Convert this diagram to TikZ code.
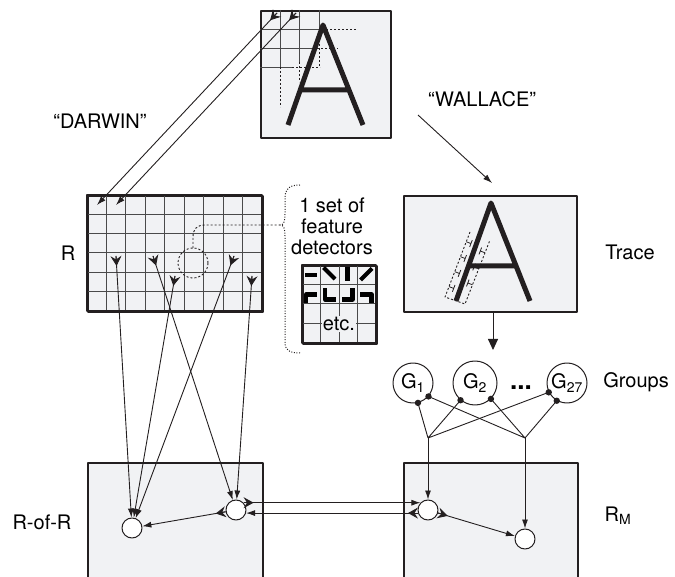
\documentclass[tikz,border=0pt]{standalone}
\usepackage{fontspec}
\setmainfont{TeX Gyre Heros}
\usetikzlibrary{arrows.meta,calc}
\definecolor{boxfill}{HTML}{F1F2F4}
\definecolor{ink}{HTML}{231F20}
\definecolor{gridc}{HTML}{4A4A4A}
\newcommand\fletchmark[3]{\draw[conn, arrows={-Stealth[length=10pt,width=11pt,inset=3.5pt]}] ($(#1)!#3!(#2)$) -- ($(#1)!#3+10pt!(#2)$);}
\begin{document}
\begin{tikzpicture}[x=1pt,y=-1pt, font=\fontsize{20}{21}\selectfont, line join=round,
  box/.style={draw=ink, line width=2pt, fill=boxfill, inner sep=0pt, anchor=north west},
  gridline/.style={draw=gridc, line width=1pt},
  dsh/.style={draw=ink, line width=0.9pt, dash pattern=on 2pt off 2pt},
  dot/.style={draw=ink, line width=1pt, dash pattern=on 1pt off 1.6pt},
  stroke/.style={draw=ink, line width=5pt},
  icon/.style={draw=black, line width=4.2pt},
  conn/.style={draw=ink, line width=0.9pt},
  head/.style={conn, arrows={-Latex[length=9pt,width=6pt]}},
  unit/.style={draw=ink, line width=1pt, fill=white, circle, inner sep=0pt, minimum size=20pt},
  group/.style={draw=ink, line width=1pt, circle, inner sep=0pt, minimum size=40pt},
  lab/.style={inner sep=0pt}]
\useasboundingbox (0,0) rectangle (675,577);

% ---------- top box ----------
\node[box, minimum width=130pt, minimum height=127pt] (top) at (260,10) {};
\draw[gridline] (260,29.5) -- (322,29.5) (260,48.5) -- (313,48.5) (260,67.5) -- (292,67.5)
  (280,10) -- (280,67) (299.5,10) -- (299.5,62) (319,10) -- (319,29.5);
\draw[dsh] (322,29.5) -- (357,29.5) (313,48.5) -- (338,48.5) (292,67.5) -- (320,67.5)
  (280,67) -- (280,107) (299.5,62) -- (299.5,82) (319,40) -- (319,67);
\draw[stroke] (288,125) -- (323,25) -- (363,125) (300,90) -- (349,90);

% ---------- R box ----------
\node[box, minimum width=175pt, minimum height=116pt] (R) at (87,195) {};
\foreach \i in {1,...,8} \draw[gridline] ({87+\i*175/9},195) -- ({87+\i*175/9},311);
\foreach \j in {1,...,5} \draw[gridline] (87,{195+\j*116/6}) -- (262,{195+\j*116/6});
\draw[box, fill=none] (87,195) rectangle (262,311);
\node[lab] (Rlab) at (68,253) {R};

% dashed circle and link to detectors
\draw[dsh] (193,263) circle[radius=15pt];
\draw[dsh] (193,248) -- (193,237) .. controls (193,229) and (197,225) .. (205,225) -- (280,225);
\draw[dot] (300,185) .. controls (289,185) and (285,189) .. (285,198) -- (285,214)
  .. controls (285,221) and (284,225) .. (280,225)
  .. controls (284,225) and (285,229) .. (285,236) -- (285,342)
  .. controls (285,350) and (289,353) .. (300,353);

% ---------- detectors ----------
\node[lab, align=center] (fd) at (332,226) {1 set of\\feature\\detectors};
\node[box, minimum width=74pt, minimum height=78pt] (det) at (302,265) {};
\draw[gridline] (320.5,265) -- (320.5,343) (339,265) -- (339,343) (357.5,265) -- (357.5,343)
  (302,284.5) -- (376,284.5) (302,304) -- (376,304) (302,323.5) -- (376,323.5);
\draw[box, fill=none] (302,265) rectangle (376,343);
\node[fill=boxfill, inner sep=1pt] (etc) at (339,324) {etc.};
\draw[icon] (305,275) -- (316.5,275);
\draw[icon] (323.5,267.5) -- (335,279);
\draw[icon] (347.5,267) -- (347.5,281);
\draw[icon] (360.5,280) -- (372,268.5);
\draw[icon] (306,303) -- (306,294.5) -- (317,294.5);
\draw[icon] (325,288.5) -- (325,299.5) -- (336,299.5);
\draw[icon] (352.5,288.5) -- (352.5,299.5) -- (341.5,299.5);
\draw[icon] (360,294.5) -- (371.5,294.5) -- (371.5,303);

% ---------- Trace box ----------
\node[box, minimum width=173pt, minimum height=116pt] (trace) at (403,195) {};
\draw[stroke] (456,301) -- (491,203) -- (530,301) (468,266) -- (516,266);
\draw[dsh] (470,232) -- (445,297) -- (465,304) -- (490,240);
\foreach \f in {0.15,0.38,0.61,0.84}
  \draw[ink, line width=0.8pt] ($(470,232)!\f!(445,297)$) -- ++(4.7,1.8) ++(-1.3,3.4) -- ++(2.6,-6.8);
\foreach \f in {0.2,0.45,0.7}
  \draw[ink, line width=0.8pt] ($(490,240)!\f!(465,304)$) -- ++(-4.7,-1.8) ++(-1.3,3.4) -- ++(2.6,-6.8);
\node[lab] (tracelab) at (630,252) {Trace};

% ---------- labels and top arrows ----------
\node[lab] (darwin) at (100,121) {“DARWIN”};
\node[lab] (wallace) at (482,99) {“WALLACE”};
\coordinate (wA) at (418,115);
\coordinate (wB) at (492,183);
\draw[head] (wA) -- (wB);
\coordinate (t1) at (277,13);
\coordinate (t2) at (296,13);
\coordinate (c1) at (97,205);
\coordinate (c2) at (116,205);
\draw[head] (t1) -- (c1);
\draw[head] (t2) -- (c2);
\fletchmark{t1}{c1}{0pt}
\fletchmark{t2}{c2}{0pt}

% ---------- Trace -> groups ----------
\coordinate (tr1) at (493,312);
\coordinate (tr2) at (493,350);
\draw[conn, arrows={-Triangle[length=11pt,width=10pt]}] (tr1) -- (tr2);

% ---------- groups ----------
\node[group] (G1) at (413,383) {G\textsubscript{1}};
\node[group, minimum size=44pt] (G2) at (475,383) {G\textsubscript{2}};
\node[group] (G27) at (567,383) {G\textsubscript{27}};
\node[lab, font=\fontsize{26}{26}\selectfont\bfseries] (dots) at (521,388) {...};
\node[lab] (groupslab) at (636,382) {Groups};
\coordinate (J1) at (428,438);
\coordinate (J2) at (525,438);
\draw[conn] (J1) -- (G1.-76) (J1) -- (G2.-130) (J1) -- (G27.-153);
\draw[conn] (J2) -- (G1.-41) (J2) -- (G2.-45) (J2) -- (G27.-120);
\foreach \p in {G1.-76,G1.-41,G2.-130,G2.-45,G27.-153,G27.-120}
  \fill[ink] (\p) circle[radius=3.2pt];

% ---------- bottom boxes ----------
\node[box, minimum width=175pt, minimum height=116pt] (ror) at (87,462) {};
\node[box, minimum width=174pt, minimum height=116pt] (rm) at (403,462) {};
\node[lab] (rorlab) at (42,522) {R-of-R};
\node[lab] (rmlab) at (618,516) {R\textsubscript{M}};

\node[unit] (A) at (132,528) {};
\node[unit] (B) at (236,510) {};
\node[unit] (M1) at (428,510) {};
\node[unit] (M2) at (525,539) {};

% R cell markers
\coordinate (m1) at (116,256);
\coordinate (m2) at (153,256);
\coordinate (m3) at (175,276);
\coordinate (m4) at (234,256);
\coordinate (m5) at (252,276);
\draw[head] (m1) -- (A);
\draw[head] (m3) -- (A);
\draw[head] (m4) -- (A);
\draw[head] (m2) -- (B);
\draw[head] (m5) -- (B);
\fletchmark{m1}{A}{0pt}
\fletchmark{m3}{A}{0pt}
\fletchmark{m4}{A}{0pt}
\fletchmark{m2}{B}{0pt}
\fletchmark{m5}{B}{0pt}

\draw[head] (B) -- (A);
\fletchmark{B}{A}{10.5pt}
\draw[head] (B.44) -- (M1.136);
\fletchmark{B.44}{M1.136}{0pt}
\draw[head] (M1.197) -- (B.-17);
\fletchmark{M1.197}{B.-17}{0pt}
\draw[head] (M1) -- (M2);
\fletchmark{M1}{M2}{10.5pt}
\draw[head] (J1) -- (M1);
\draw[head] (J2) -- (M2);
\end{tikzpicture}
\end{document}
